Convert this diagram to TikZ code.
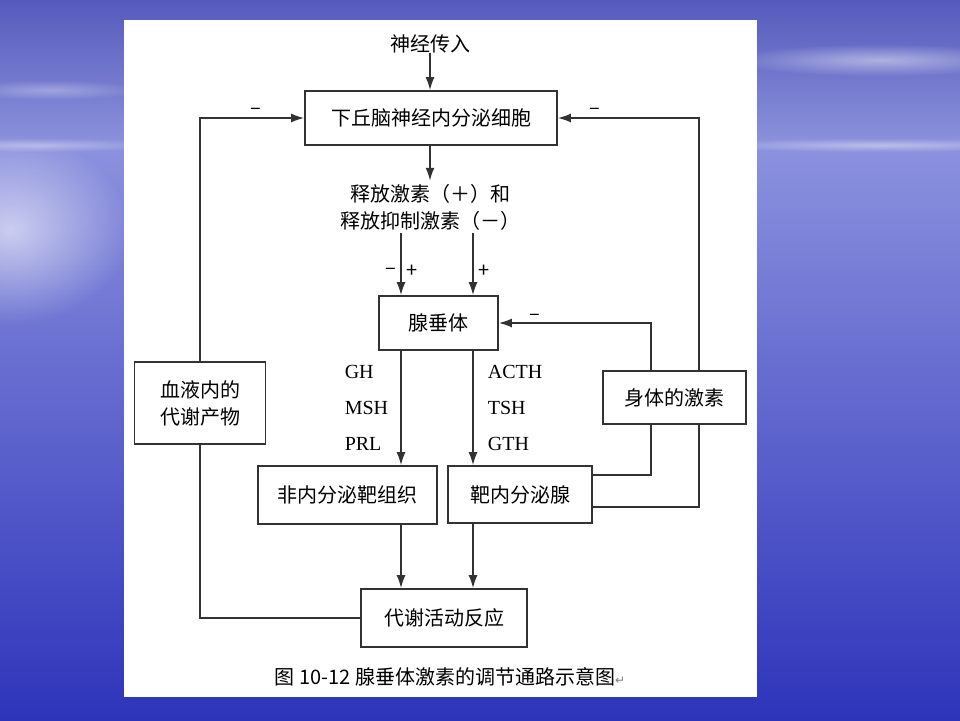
\documentclass[tikz,border=0pt]{standalone}
\usepackage{fontspec}
\setmainfont{Noto Sans CJK SC}
\newfontfamily\latinfont{Liberation Serif}
\newfontfamily\symfont{DejaVu Sans}
\usetikzlibrary{arrows.meta,fadings}
\tikzfading[name=glow, inner color=transparent!0, outer color=transparent!100]
\definecolor{skyblue}{RGB}{86,90,188}
\definecolor{skylow}{RGB}{140,146,220}
\definecolor{horizon}{RGB}{140,146,222}
\definecolor{seablue}{RGB}{46,52,186}
\definecolor{linegray}{RGB}{50,50,50}
\begin{document}
\begin{tikzpicture}[x=1pt,y=-1pt,
    box/.style={draw=linegray, line width=1.6pt, fill=white, inner sep=0pt, align=center, font=\fontsize{20}{27}\selectfont},
    lbl/.style={inner sep=0pt, font=\fontsize{20}{27}\selectfont},
    hormones/.style={inner sep=0pt, align=left, font=\latinfont\fontsize{20}{36}\selectfont},
    sign/.style={inner sep=0pt, font=\fontsize{20}{20}\selectfont},
    wire/.style={draw=linegray, line width=1.8pt},
    arr/.style={wire, -{Latex[length=13pt,width=9pt]}}]
  % slide background
  \useasboundingbox (0,0) rectangle (960,720);
  \shade[top color=skyblue, bottom color=skylow] (0,0) rectangle (960,145);
  \shade[top color=horizon, bottom color=seablue] (0,145) rectangle (960,720);
  \fill[white, path fading=glow, opacity=.6] (10,230) ellipse (120 and 95);
  \fill[white, path fading=glow, opacity=.45] (880,60) ellipse (150 and 16);
  \fill[white, path fading=glow, opacity=.4] (880,145) ellipse (180 and 7);
  \fill[white, path fading=glow, opacity=.35] (40,145) ellipse (120 and 7);
  \fill[white, path fading=glow, opacity=.3] (50,90) ellipse (90 and 10);
  \fill[white] (124,20) rectangle (757,697);

  % nodes
  \node[lbl] (input) at (430,44) {神经传入};
  \node[box, minimum width=252pt, minimum height=54pt] (hypo) at (431,118) {下丘脑神经内分泌细胞};
  \node[lbl, align=center, inner sep=3pt] (release) at (430,207) {释放激素（＋）和\\释放抑制激素（－）};
  \node[box, minimum width=119pt, minimum height=54pt] (pit) at (438.5,323) {腺垂体};
  \node[box, minimum width=131pt, minimum height=82pt] (blood) at (200,403) {血液内的\\代谢产物};
  \node[box, minimum width=143pt, minimum height=53pt] (body) at (674.5,397.5) {身体的激素};
  \node[box, minimum width=179pt, minimum height=58pt] (nonendo) at (347.5,495) {非内分泌靶组织};
  \node[box, minimum width=144pt, minimum height=57pt] (gland) at (520,494.5) {靶内分泌腺};
  \node[box, minimum width=166pt, minimum height=58pt] (metab) at (444,618) {代谢活动反应};
  \node[lbl] (caption) at (450,677) {图 10-12 腺垂体激素的调节通路示意图{\symfont\fontsize{12}{12}\selectfont\color{gray}↵}};

  % main pathway
  \draw[arr] (input.south) -- (input.south |- hypo.north);
  \draw[arr] (release.north |- hypo.south) -- (release.north);
  \foreach \dx/\lft/\rgt in {-37.5/–/+, 34.5//+}
    \draw[arr] ([xshift=\dx pt]pit.north |- release.south) -- ([xshift=\dx pt]pit.north)
      node[sign, pos=.62, left=4pt] {\lft} node[sign, pos=.62, right=5pt] {\rgt};
  \draw[arr] ([xshift=-37.5pt]pit.south) -- ([xshift=-37.5pt]pit.south |- nonendo.north)
    node[hormones, midway, left=12pt] {GH\\MSH\\PRL};
  \draw[arr] ([xshift=34.5pt]pit.south) -- ([xshift=34.5pt]pit.south |- gland.north)
    node[hormones, midway, right=14pt] {ACTH\\TSH\\GTH};
  \draw[arr] ([xshift=-37.5pt]pit.south |- nonendo.south) -- ([xshift=-37.5pt]pit.south |- metab.north);
  \draw[arr] ([xshift=34.5pt]pit.south |- gland.south) -- ([xshift=34.5pt]pit.south |- metab.north);

  % feedback loops
  \draw[arr] (blood.north) |- (hypo.west) node[sign, pos=.77, above=3pt] {–};
  \draw[wire] (blood.south) |- (metab.west);
  \draw[wire] ([yshift=19.5pt]gland.east) -| ([xshift=-23.5pt]body.south);
  \draw[arr] ([xshift=-23.5pt]body.north) |- (pit.east) node[sign, pos=.88, above=2pt] {–};
  \draw[wire] ([yshift=-12.5pt]gland.east) -| ([xshift=24.5pt]body.south);
  \draw[arr] ([xshift=24.5pt]body.north) |- (hypo.east) node[sign, pos=.87, above=3pt] {–};
\end{tikzpicture}
\end{document}
